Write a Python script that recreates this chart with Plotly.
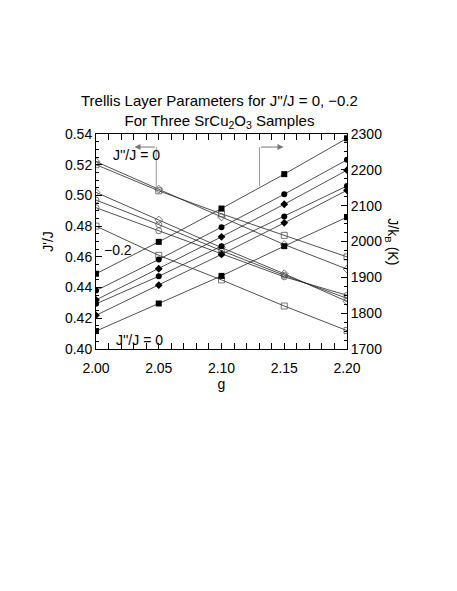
import plotly.graph_objects as go

# -- datos
g = [2.00, 2.05, 2.10, 2.15, 2.20]

# J'/J (eje izquierdo, marcadores abiertos)
jp_diam_1 = [0.522, 0.504, 0.486, 0.468, 0.452]
jp_sq_1 = [0.520, 0.503, 0.488, 0.474, 0.460]
jp_diam_2 = [0.502, 0.484, 0.466, 0.449, 0.431]
jp_circ_1 = [0.497, 0.481, 0.464, 0.448, 0.433]
jp_circ_2 = [0.492, 0.477, 0.462, 0.447, 0.435]
jp_sq_2 = [0.480, 0.461, 0.445, 0.428, 0.412]

# J/kB en K (eje derecho, marcadores llenos)
jk_sq_1 = [1910, 1999, 2092, 2188, 2288]
jk_circ_1 = [1863, 1950, 2040, 2132, 2228]
jk_diam_1 = [1837, 1924, 2013, 2104, 2199]
jk_circ_2 = [1826, 1903, 1987, 2070, 2155]
jk_diam_2 = [1794, 1878, 1964, 2052, 2143]
jk_sq_2 = [1750, 1827, 1904, 1987, 2068]

FONT = "Liberation Sans, Arial, sans-serif"

fig = go.Figure()

# series abiertas J'/J
abiertas = [(jp_diam_1, 'diamond-open'), (jp_sq_1, 'square-open'),
            (jp_diam_2, 'diamond-open'), (jp_circ_1, 'circle-open'),
            (jp_circ_2, 'circle-open'), (jp_sq_2, 'square-open')]
for ys, sym in abiertas:
    fig.add_trace(go.Scatter(x=g, y=ys, mode='lines+markers',
                             line=dict(color='#222222', width=0.8),
                             marker=dict(symbol=sym, size=6, color='#555555',
                                         line=dict(width=0.8, color='#555555')),
                             showlegend=False))

# series llenas J/kB
llenas = [(jk_sq_1, 'square'), (jk_circ_1, 'circle'), (jk_diam_1, 'diamond'),
          (jk_circ_2, 'circle'), (jk_diam_2, 'diamond'), (jk_sq_2, 'square')]
for ys, sym in llenas:
    fig.add_trace(go.Scatter(x=g, y=ys, mode='lines+markers', yaxis='y2',
                             line=dict(color='#222222', width=0.8),
                             marker=dict(symbol=sym, size=6, color='black'),
                             showlegend=False))

# flechas grises
fig.add_shape(type='line', x0=2.048, x1=2.048, y0=0.5045, y1=0.5315,
              xref='x', yref='y', line=dict(color='#999999', width=1))
fig.add_annotation(x=2.0307, y=0.5315, ax=2.048, ay=0.5315, xref='x', yref='y',
                   axref='x', ayref='y', text='', showarrow=True, arrowhead=2,
                   arrowsize=1.2, arrowwidth=1, arrowcolor='#777777')
fig.add_shape(type='line', x0=2.1303, x1=2.1303, y0=0.506, y1=0.5315,
              xref='x', yref='y', line=dict(color='#999999', width=1))
fig.add_annotation(x=2.1494, y=0.5315, ax=2.1303, ay=0.5315, xref='x', yref='y',
                   axref='x', ayref='y', text='', showarrow=True, arrowhead=2,
                   arrowsize=1.2, arrowwidth=1, arrowcolor='#777777')

# etiquetas
fig.add_annotation(x=2.0121, y=0.5261, xref='x', yref='y', text="J''/J = 0",
                   showarrow=False, xanchor='left', yanchor='middle',
                   font=dict(size=14, color='black', family=FONT))
fig.add_annotation(x=2.005, y=0.4647, xref='x', yref='y', text='\u22120.2',
                   showarrow=False, xanchor='left', yanchor='middle',
                   font=dict(size=14, color='black', family=FONT))
fig.add_annotation(x=2.0147, y=0.4057, xref='x', yref='y', text="J''/J = 0",
                   showarrow=False, xanchor='left', yanchor='middle',
                   font=dict(size=14, color='black', family=FONT))

# titulo en dos lineas
fig.add_annotation(x=0.494, y=1.105, xref='paper', yref='paper',
                   text="Trellis Layer Parameters for J''/J = 0, \u22120.2<br>"
                        "For Three SrCu<sub>2</sub>O<sub>3</sub> Samples",
                   showarrow=False, xanchor='center', yanchor='middle',
                   font=dict(size=15, color='black', family=FONT))

# titulo eje derecho (lee de arriba hacia abajo)
fig.add_annotation(x=1.18, y=0.5, xref='paper', yref='paper', text='J/k<sub>B</sub> (K)',
                   textangle=90, showarrow=False, xanchor='center', yanchor='middle',
                   font=dict(size=14, color='black', family=FONT))

eje = dict(showline=True, linecolor='black', linewidth=1, ticks='inside',
           ticklen=6, tickcolor='black', showgrid=False, zeroline=False,
           tickfont=dict(size=14, color='black', family=FONT))

fig.update_layout(
    width=449, height=583,
    margin=dict(l=88, r=110, t=126, b=242),
    paper_bgcolor='white', plot_bgcolor='white',
    xaxis=dict(range=[2.0, 2.2], tick0=2.0, dtick=0.05, tickformat='.2f', mirror='allticks',
               ticklabelstandoff=6,
               minor=dict(ticks='inside', dtick=0.01, ticklen=3, tickcolor='black'),
               title=dict(text='g', font=dict(size=14, color='black', family=FONT), standoff=2),
               **eje),
    yaxis=dict(range=[0.40, 0.54], tick0=0.40, dtick=0.02, tickformat='.2f',
               minor=dict(ticks='inside', dtick=0.005, ticklen=3, tickcolor='black'),
               title=dict(text="J'/J", font=dict(size=14, color='black', family=FONT), standoff=8),
               **eje),
    yaxis2=dict(range=[1700, 2300], tick0=1700, dtick=100, overlaying='y', side='right',
                minor=dict(ticks='inside', dtick=25, ticklen=3, tickcolor='black'),
                **eje),
)

fig.write_html("out.html")
